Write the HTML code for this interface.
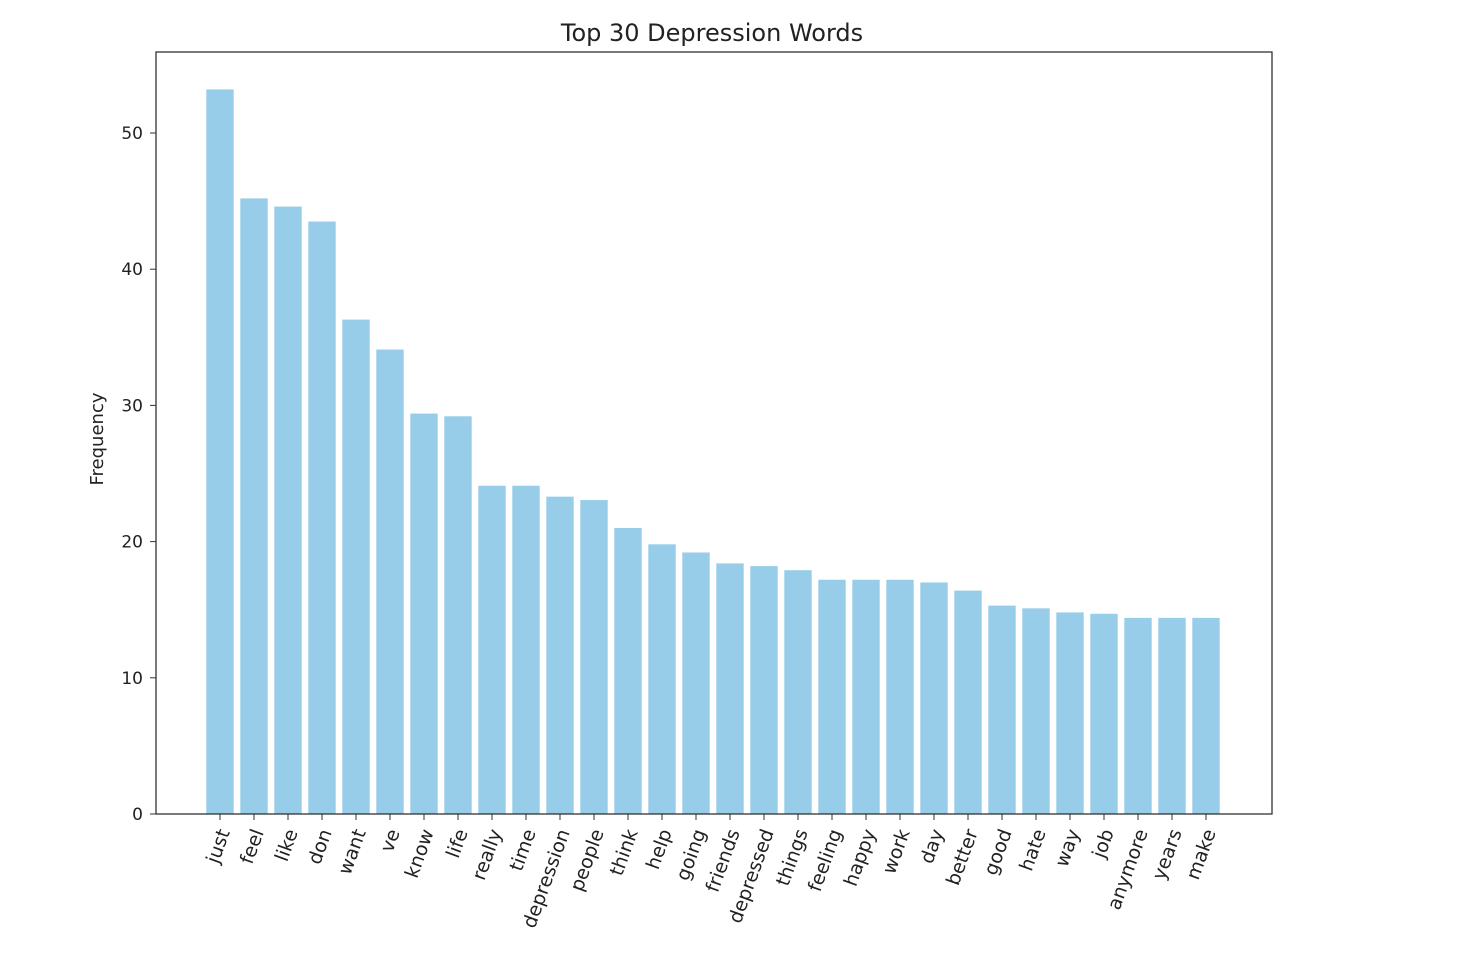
<!DOCTYPE html>
<html><head><meta charset="utf-8"><style>
body{margin:0;background:#fff;}
svg text{font-family:"DejaVu Sans","Liberation Sans",sans-serif;fill:#222;}
</style></head><body>
<svg id="chart" width="1466" height="970">
<text x="712" y="41" text-anchor="middle" font-size="24">Top 30 Depression Words</text>
<text transform="translate(103,439) rotate(-90)" text-anchor="middle" font-size="18">Frequency</text>
<g id="bars"></g><g id="yt"></g><g id="xt"></g>
<rect x="156" y="52" width="1116" height="762" fill="none" stroke="#333" stroke-width="1.3"/>
</svg>
<script>
const categories=["just","feel","like","don","want","ve","know","life","really","time","depression","people","think","help","going","friends","depressed","things","feeling","happy","work","day","better","good","hate","way","job","anymore","years","make"];
const values=[53.2,45.2,44.6,43.5,36.3,34.1,29.4,29.2,24.1,24.1,23.3,23.05,21.0,19.8,19.2,18.4,18.2,17.9,17.2,17.2,17.2,17.0,16.4,15.3,15.1,14.8,14.7,14.4,14.4,14.4];
const yTicks=[0,10,20,30,40,50];
const NS="http://www.w3.org/2000/svg";
const y=v=>814-v*13.62;
const x=i=>220+i*34;
const bars=document.getElementById('bars'),yt=document.getElementById('yt'),xt=document.getElementById('xt');
function mk(t,a){const e=document.createElementNS(NS,t);for(const k in a)e.setAttribute(k,a[k]);return e;}
values.forEach((v,i)=>{
  const r=mk('rect',{x:x(i)-13.7,y:y(v),width:27.4,height:814-y(v),fill:'#97cde8'});
  
  
  bars.appendChild(r);
  const tk=mk('line',{x1:x(i),x2:x(i),y1:814,y2:820,stroke:'#333'});
  
  
  xt.appendChild(tk);
  const t=mk('text',{transform:`translate(${x(i)+10},832) rotate(-70)`,'text-anchor':'end','font-size':'19'});
  t.textContent=categories[i];
  
  
  xt.appendChild(t);
});
yTicks.forEach(v=>{
  const tk=mk('line',{x1:150,x2:156,y1:y(v),y2:y(v),stroke:'#333'});
  
  
  yt.appendChild(tk);
  const t=mk('text',{x:143,y:y(v)+6,'text-anchor':'end','font-size':'17'});
  t.textContent=v;
  
  
  yt.appendChild(t);
});
</script>
</body></html>
